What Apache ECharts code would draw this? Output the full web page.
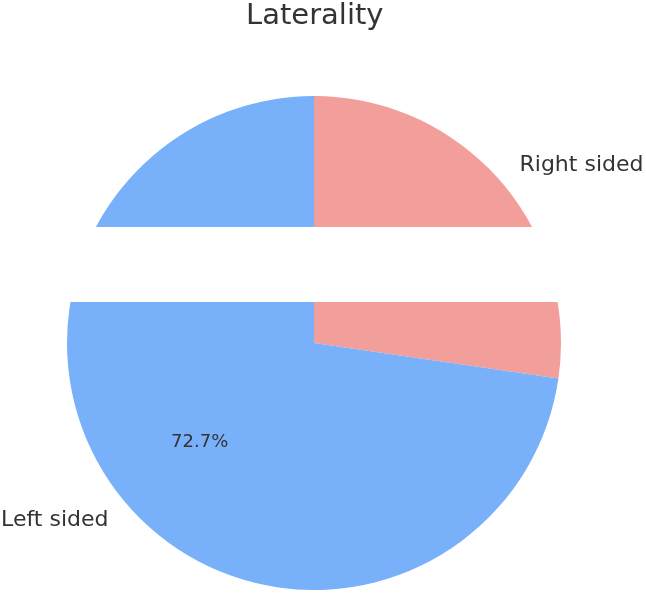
<!DOCTYPE html>
<html>
<head>
<meta charset="utf-8">
<script src="https://cdn.jsdelivr.net/npm/echarts@6/dist/echarts.min.js"></script>
<style>
  html, body { margin: 0; padding: 0; background: #fff; }
  #chart { width: 646px; height: 593px; }
</style>
</head>
<body>
<div id="chart"></div>
<script>
// data
const categories = ['Right sided', 'Left sided'];
const shares = [27.3, 72.7];
const colors = ['#f29f9c', '#78b1fa'];

const R = 247;
const C = [314, 343];

const pieData = categories.map((name, i) => ({
  name: name,
  value: shares[i],
  itemStyle: { color: colors[i] }
}));

const chart = echarts.init(document.getElementById('chart'));
chart.setOption({
  animation: false,
  title: {
    text: 'Laterality',
    left: 246,
    top: 2,
    padding: 0,
    textStyle: { fontFamily: 'DejaVu Sans', fontSize: 29, fontWeight: 'normal', color: '#333' }
  },
  series: [
    {
      // wedges + name labels at 1.1 r
      type: 'pie',
      center: C,
      radius: R,
      startAngle: 90,
      clockwise: true,
      avoidLabelOverlap: false,
      silent: true,
      data: pieData,
      label: {
        show: true,
        position: 'outside',
        formatter: '{b}',
        fontFamily: 'DejaVu Sans',
        fontSize: 22,
        color: '#333',
        distanceToLabelLine: 0
      },
      labelLine: { show: false, length: R * 0.1, length2: 0 }
    },
    {
      // percent labels at 0.6 r
      type: 'pie',
      center: C,
      radius: R * 1.2,
      startAngle: 90,
      clockwise: true,
      silent: true,
      data: categories.map((name, i) => ({ name: name, value: shares[i] })),
      itemStyle: { color: 'rgba(0,0,0,0)' },
      label: {
        show: true,
        position: 'inside',
        formatter: p => p.value.toFixed(1) + '%',
        fontFamily: 'DejaVu Sans',
        fontSize: 18,
        color: '#333'
      },
      labelLine: { show: false }
    }
  ],
  graphic: [
    {
      type: 'rect',
      z: 100,
      shape: { x: 0, y: 227, width: 646, height: 75 },
      style: { fill: '#fff' }
    }
  ]
});
</script>
</body>
</html>
